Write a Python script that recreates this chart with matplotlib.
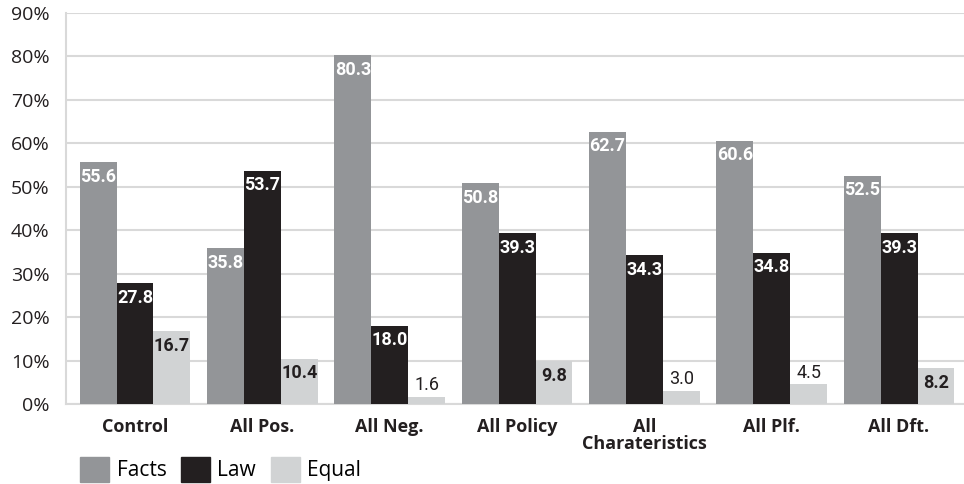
import numpy as np
import matplotlib.pyplot as plt
from matplotlib.patches import Patch

categories = ['Control', 'All Pos.', 'All Neg.', 'All Policy', 'All\nCharateristics', 'All Plf.', 'All Dft.']
facts = [55.6, 35.8, 80.3, 50.8, 62.7, 60.6, 52.5]
law = [27.8, 53.7, 18.0, 39.3, 34.3, 34.8, 39.3]
equal = [16.7, 10.4, 1.6, 9.8, 3.0, 4.5, 8.2]
yticks = [0, 10, 20, 30, 40, 50, 60, 70, 80, 90]

c_facts = '#939598'
c_law = '#231f20'
c_equal = '#d1d3d4'
grid_c = '#d9d9d9'

main_font = ['Open Sans', 'DejaVu Sans']
num_font = ['DejaVu Sans Condensed', 'Liberation Sans Narrow', 'Roboto', 'DejaVu Sans']

fig = plt.figure(figsize=(9.64, 4.84), dpi=100)
ax = fig.add_axes([66/964, 1-404/484, 1-66/964, (404-13)/484])

x = np.arange(len(categories))
w = 0.29
b1 = ax.bar(x - w, facts, w, color=c_facts, zorder=3)
b2 = ax.bar(x, law, w, color=c_law, zorder=3)
b3 = ax.bar(x + w, equal, w, color=c_equal, zorder=3)

ax.set_xlim(-0.542, 6.51)
ax.set_ylim(0, 90)
ax.set_yticks(yticks)
ax.set_yticklabels([f'{t}%' for t in yticks], family=main_font, fontsize=14, color='#231f20')
ax.set_xticks(x)
ax.set_xticklabels(categories, family=main_font, fontsize=13, fontweight='bold',
                   color='#231f20', linespacing=0.95, va='top')
ax.tick_params(axis='both', length=0)
ax.tick_params(axis='y', pad=12)
ax.tick_params(axis='x', pad=10)

ax.yaxis.grid(True, color=grid_c, lw=1.5, zorder=0)
for s in ['top', 'right']:
    ax.spines[s].set_visible(False)
for s in ['left', 'bottom']:
    ax.spines[s].set_color(grid_c)
    ax.spines[s].set_linewidth(1.5)

def label(bars, vals, color):
    for b, v in zip(bars, vals):
        cx = b.get_x() + b.get_width() / 2
        if v > 6:
            ax.annotate(f'{v:.1f}', (cx, v), xytext=(0, -4), textcoords='offset points',
                        ha='center', va='top', color=color, fontsize=13, fontweight='bold',
                        family=num_font, zorder=4)
        else:
            ax.annotate(f'{v:.1f}', (cx, v), xytext=(0, 2), textcoords='offset points',
                        ha='center', va='bottom', color='#231f20', fontsize=13,
                        family=num_font, zorder=4)

label(b1, facts, 'white')
label(b2, law, 'white')
label(b3, equal, '#231f20')

handles = [Patch(color=c_facts), Patch(color=c_law), Patch(color=c_equal)]
fig.legend(handles, ['Facts', 'Law', 'Equal'], loc='lower left', bbox_to_anchor=(78/964, 0.0),
           ncol=3, frameon=False, prop={'family': main_font, 'size': 15},
           handlelength=1.4, handleheight=1.5, handletextpad=0.35, columnspacing=0.7,
           borderpad=0.1, borderaxespad=0)

fig.savefig('out.png', dpi=100)
